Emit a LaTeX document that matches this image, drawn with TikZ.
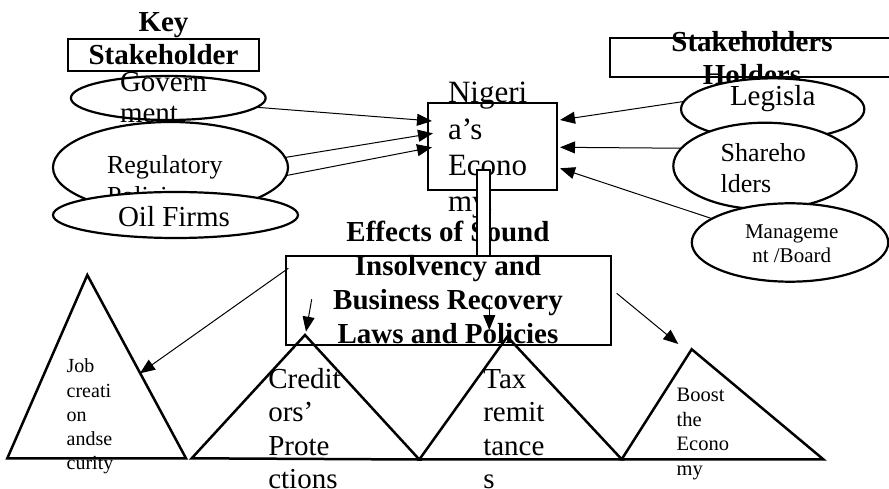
\documentclass[tikz,border=0pt]{standalone}
\usepackage{fontspec}
\setmainfont{Liberation Serif}
\usetikzlibrary{shapes.geometric,arrows.meta}
\newcommand\fs[2]{\fontsize{#1}{#2}\selectfont}
\begin{document}
\begin{tikzpicture}[x=1pt,y=-1pt,
  shp/.style={draw,line width=2.2pt},
  ell/.style={shp,ellipse,fill=white,inner sep=0pt,outer sep=0pt},
  box/.style={shp,rectangle,inner sep=0pt,outer sep=0pt},
  tri/.style={draw,line width=2.5pt},
  txt/.style={inner sep=0pt,outer sep=0pt,align=left,anchor=base west},
  ctxt/.style={inner sep=0pt,outer sep=0pt,align=center,anchor=base},
  arr/.style={line width=1pt,-{Triangle[length=15pt,width=12pt]}}]
\useasboundingbox (0,0) rectangle (889,489);
% left stakeholders (base anchor = baseline of the last line)
\node[box,minimum width=191pt,minimum height=31.7pt] (keybox) at (163.8,55.15) {};
\node[ctxt,font={\fs{29}{33}\bfseries}] (keyt) at (163.5,65) {Key\\Stakeholder};
\node[ell,minimum width=194.7pt,minimum height=44pt] (gov) at (168.3,98) {};
\node[txt,font={\fs{29}{31}}] (govt) at (120,123) {Govern\\ment};
\node[ell,minimum width=235pt,minimum height=91pt] (reg) at (170.5,167.5) {};
\node[txt,font={\fs{26}{32}}] (regt) at (107,205) {Regulatory\\Policies};
\node[ell,minimum width=245pt,minimum height=46pt] (oil) at (175.5,215) {};
\node[txt,font={\fs{29}{33}}] (oilt) at (118,227) {Oil Firms};
% right stakeholders
\node[box,minimum width=290pt,minimum height=39pt] (skbox) at (755,57.8) {};
\node[ctxt,font={\fs{29}{33}\bfseries}] (skt) at (752,84.7) {Stakeholders\\Holders};
\node[ell,minimum width=183.3pt,minimum height=61.7pt] (leg) at (772.7,109.2) {};
\node[txt,font={\fs{29}{32}}] (legt) at (730,106) {Legisla};
\node[ell,minimum width=183.4pt,minimum height=86.6pt] (sha) at (765,166) {};
\node[txt,font={\fs{26}{31}}] (shat) at (720.7,192.7) {Shareho\\lders};
\node[ell,minimum width=196.4pt,minimum height=78.4pt] (man) at (790,242.5) {};
\node[ctxt,font={\fs{21}{24.5}}] (mant) at (791.7,262.8) {Manageme\\nt /Board};
% economy
\node[box,fill=white,minimum width=128.4pt,minimum height=86.7pt] (eco) at (492.5,146.65) {};
\node[txt,font={\fs{31}{36.3}}] (ecot) at (448,211.7) {Nigeri\\a’s\\Econo\\my.};
% effects
\node[ctxt,font={\fs{29}{33.8}\bfseries}] (efft) at (448,343.1) {Effects of Sound\\Insolvency and\\Business Recovery\\Laws and Policies};
\node[box,minimum width=324.7pt,minimum height=89pt] (eff) at (448.35,300.5) {};
\node[box,fill=white,line width=1.8pt,minimum width=12.7pt,minimum height=86pt] (bar) at (483.65,213) {};
% arrow end points
\coordinate (t1) at (432,121);
\coordinate (t2) at (433,133.3);
\coordinate (t3) at (432,147.3);
\coordinate (t4) at (560,120);
\coordinate (t5) at (560,147.3);
\coordinate (t6) at (560,168.3);
\coordinate (s1) at (288.3,268.3);
\coordinate (s2) at (311.7,299.3);
\coordinate (s3) at (489.3,305);
\coordinate (s4) at (616.7,293.3);
\coordinate (t7) at (140,373.3);
\coordinate (t8) at (306,331.7);
\coordinate (t9) at (489.3,330);
\coordinate (t10) at (678.3,344);
\draw[arr] (gov.-6.5) -- (t1);
\draw[arr] (reg.5.6) -- (t2);
\draw[arr] (reg.-4.5) -- (t3);
\draw[arr] (leg.175) -- (t4);
\draw[arr] (sha.168) -- (t5);
\draw[arr] (man.163) -- (t6);
% triangles
\coordinate (jA) at (87.3,275);
\coordinate (jL) at (7.3,458.3);
\coordinate (jR) at (186,458.3);
\coordinate (cA) at (305,335);
\coordinate (cL) at (191.7,458.3);
\coordinate (cR) at (419.3,459.5);
\coordinate (xA) at (507.3,336.7);
\coordinate (xR) at (621.7,459.3);
\coordinate (bA) at (691.7,349.3);
\coordinate (bR) at (823.3,459.3);
\draw[tri] (jA) -- (jL) -- (jR) -- cycle;
\draw[tri] (cA) -- (cL) -- (cR) -- cycle;
\draw[tri] (xA) -- (cR) -- (xR) -- cycle;
\draw[tri] (bA) -- (xR) -- (bR) -- cycle;
\draw[arr] (s1) -- (t7);
\draw[arr] (s2) -- (t8);
\draw[arr] (s3) -- (t9);
\draw[arr] (s4) -- (t10);
\node[txt,font={\fs{20}{24.3}}] (jobt) at (66.7,469.9) {Job\\creati\\on\\andse\\curity};
\node[txt,font={\fs{29}{33.5}}] (cret) at (268.3,488.5) {Credit\\ors’\\Prote\\ctions};
\node[txt,font={\fs{29}{33.5}}] (taxt) at (483.3,488.8) {Tax\\remit\\tance\\s};
\node[txt,font={\fs{20.5}{24.5}}] (boot) at (676.7,475.2) {Boost\\the\\Econo\\my};
\end{tikzpicture}
\end{document}
